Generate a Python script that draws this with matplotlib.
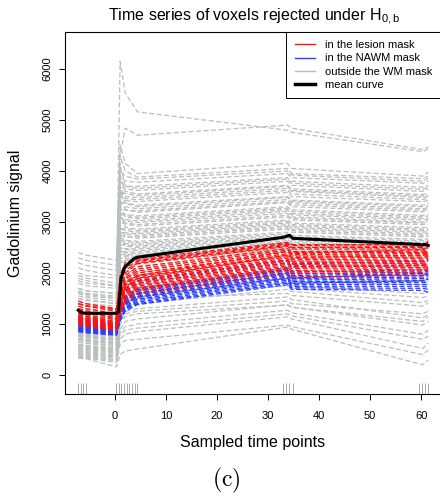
import numpy as np
import matplotlib
matplotlib.use("Agg")
import matplotlib.pyplot as plt
from matplotlib.lines import Line2D

plt.rcParams["font.family"] = ["Liberation Sans", "DejaVu Sans"]
plt.rcParams["mathtext.fontset"] = "cm"

# sampled time points (rug) and the times the voxel curves are read at
RUG_T = [-7.2, -6.7, -6.2, -5.7, 0.2, 0.7, 1.2, 1.8, 2.3, 2.8, 3.3, 3.9, 4.4,
         33.0, 33.6, 34.2, 34.8, 59.6, 60.2, 60.8, 61.4]
T = [-7.2, -5.7, 0.3, 1.0, 2.0, 4.4, 33.8, 34.6, 60.3, 61.4]

# voxels outside the WM mask
GRAY = [
    [1900, 1850, 1750, 6150, 5530, 5160, 4800, 4760, 4380, 4430],
    [1700, 1650, 1600, 4300, 4840, 4700, 4900, 4840, 4420, 4470],
    [2400, 2350, 2250, 4500, 4150, 3950, 4150, 4050, 3900, 3980],
    [2300, 2250, 2150, 4000, 3900, 3840, 4000, 3920, 3800, 3850],
    [2200, 2150, 2050, 4300, 4000, 3880, 4050, 3950, 3850, 3900],
    [2100, 2050, 1950, 3900, 3800, 3780, 3950, 3870, 3760, 3800],
    [2000, 1950, 1900, 3800, 3700, 3660, 3840, 3760, 3640, 3690],
    [1950, 1900, 1800, 4100, 3700, 3700, 3870, 3800, 3680, 3720],
    [1800, 1750, 1700, 3700, 3650, 3620, 3800, 3720, 3600, 3650],
    [1650, 1600, 1550, 3900, 3600, 3550, 3720, 3650, 3540, 3560],
    [1850, 1800, 1750, 3600, 3560, 3520, 3700, 3620, 3510, 3530],
    [1500, 1480, 1400, 3600, 3500, 3480, 3660, 3600, 3480, 3500],
    [1550, 1520, 1450, 3700, 3460, 3440, 3620, 3550, 3440, 3460],
    [1700, 1650, 1600, 3500, 3420, 3400, 3580, 3500, 3400, 3420],
    [1400, 1380, 1300, 3600, 3380, 3330, 3500, 3430, 3330, 3360],
    [1620, 1580, 1520, 3400, 3360, 3300, 3480, 3410, 3300, 3320],
    [1600, 1550, 1500, 3300, 3300, 3260, 3440, 3380, 3260, 3280],
    [1380, 1350, 1280, 3250, 3230, 3220, 3400, 3340, 3230, 3250],
    [1300, 1280, 1200, 3400, 3250, 3190, 3380, 3300, 3200, 3220],
    [1450, 1400, 1350, 3200, 3150, 3120, 3300, 3240, 3130, 3150],
    [1500, 1460, 1400, 3150, 3130, 3090, 3270, 3210, 3100, 3120],
    [1200, 1180, 1100, 3300, 3100, 3060, 3240, 3170, 3070, 3080],
    [1280, 1250, 1180, 3100, 3050, 3020, 3210, 3140, 3040, 3050],
    [1350, 1300, 1250, 3100, 3020, 2990, 3170, 3100, 3000, 3020],
    [1180, 1150, 1080, 3050, 2980, 2950, 3130, 3070, 2980, 2990],
    [1100, 1080, 1000, 3000, 2960, 2920, 3100, 3040, 2950, 2960],
    [1250, 1200, 1150, 3200, 2900, 2860, 3040, 2980, 2890, 2900],
    [1220, 1180, 1120, 2850, 2870, 2830, 3010, 2950, 2860, 2870],
    [1000, 980, 900, 2900, 2830, 2800, 2980, 2920, 2830, 2840],
    [1080, 1050, 980, 2800, 2790, 2770, 2950, 2890, 2800, 2810],
    [1150, 1100, 1050, 2800, 2760, 2740, 2920, 2860, 2770, 2780],
    [900, 880, 820, 2900, 2720, 2680, 2860, 2800, 2710, 2720],
    [950, 930, 870, 2750, 2700, 2710, 2890, 2830, 2740, 2750],
    [1050, 1000, 950, 2700, 2640, 2620, 2800, 2740, 2660, 2670],
    [1000, 970, 920, 2650, 2620, 2590, 2770, 2710, 2630, 2640],
    [850, 830, 780, 2600, 2580, 2560, 2740, 2690, 2600, 2610],
    [900, 870, 820, 2550, 2550, 2530, 2710, 2660, 2570, 2580],
    [980, 950, 900, 2700, 2530, 2500, 2690, 2630, 2550, 2560],
    [860, 840, 780, 2450, 2480, 2470, 2660, 2600, 2520, 2530],
    [800, 780, 720, 2500, 2460, 2440, 2630, 2570, 2500, 2500],
    [780, 760, 700, 2400, 2420, 2410, 2600, 2540, 2470, 2470],
    [950, 920, 870, 2400, 2400, 2380, 2580, 2520, 2440, 2450],
    [840, 820, 760, 2350, 2370, 2350, 2550, 2490, 2410, 2420],
    [750, 730, 680, 2450, 2350, 2320, 2520, 2460, 2390, 2400],
    [700, 680, 630, 2300, 2320, 2290, 2490, 2430, 2360, 2370],
    [880, 850, 800, 2300, 2280, 2260, 2470, 2400, 2340, 2340],
    [760, 740, 690, 2200, 2250, 2230, 2440, 2380, 2310, 2310],
    [700, 680, 620, 2200, 2220, 2200, 2410, 2350, 2280, 2290],
    [820, 800, 750, 2250, 2160, 2140, 2350, 2290, 2220, 2230],
    [650, 630, 580, 2100, 2100, 2080, 2300, 2240, 2170, 2170],
    [780, 760, 700, 2000, 2030, 2020, 2240, 2180, 2110, 2120],
    [600, 580, 530, 2050, 1980, 1960, 2180, 2120, 2060, 2060],
    [720, 700, 650, 1900, 1910, 1900, 2120, 2060, 2000, 2000],
    [560, 540, 480, 1800, 1850, 1840, 2060, 2000, 1940, 1950],
    [680, 660, 600, 1750, 1780, 1780, 2000, 1950, 1880, 1890],
    [520, 500, 450, 1700, 1720, 1720, 1950, 1890, 1830, 1830],
    [640, 620, 560, 1600, 1650, 1660, 1890, 1840, 1770, 1780],
    [580, 560, 500, 1450, 1550, 1600, 1800, 1750, 1600, 1620],
    [540, 520, 470, 1350, 1480, 1540, 1750, 1700, 1520, 1550],
    [600, 580, 520, 1300, 1450, 1500, 1600, 1560, 1350, 1410],
    [460, 440, 390, 1200, 1350, 1400, 1680, 1640, 1420, 1460],
    [500, 480, 430, 1100, 1250, 1300, 1530, 1480, 1120, 1180],
    [440, 420, 370, 1050, 1200, 1250, 1450, 1400, 1200, 1250],
    [480, 460, 400, 1000, 1150, 1200, 1370, 1330, 1050, 1140],
    [400, 380, 330, 900, 1050, 1100, 1380, 1330, 980, 1050],
    [420, 400, 350, 850, 950, 1000, 1270, 1220, 800, 880],
    [360, 350, 280, 800, 880, 920, 1200, 1160, 700, 760],
    [380, 360, 300, 700, 800, 850, 1140, 1100, 520, 630],
    [350, 330, 250, 600, 680, 700, 980, 950, 400, 490],
    [330, 320, 160, 400, 470, 510, 940, 900, 200, 290],
]

# voxels in the lesion mask
RED = [
    [1450, 1400, 1300, 1950, 2200, 2250, 2580, 2540, 2560, 2620],
    [1400, 1350, 1250, 1900, 2150, 2280, 2600, 2560, 2550, 2600],
    [1400, 1360, 1280, 1800, 2050, 2200, 2540, 2500, 2520, 2580],
    [1350, 1300, 1200, 1800, 2100, 2230, 2560, 2500, 2500, 2560],
    [1300, 1260, 1150, 1700, 2000, 2180, 2520, 2470, 2470, 2520],
    [1250, 1220, 1120, 1650, 1950, 2120, 2480, 2420, 2430, 2480],
    [1280, 1240, 1100, 1600, 1900, 2080, 2450, 2400, 2400, 2450],
    [1220, 1180, 1080, 1550, 1870, 2040, 2420, 2360, 2380, 2420],
    [1200, 1150, 1050, 1500, 1820, 2000, 2380, 2330, 2340, 2390],
    [1180, 1140, 1040, 1500, 1780, 1960, 2350, 2290, 2310, 2360],
    [1160, 1110, 1010, 1480, 1800, 1950, 2420, 2380, 2460, 2500],
    [1150, 1120, 1020, 1450, 1750, 1930, 2320, 2260, 2280, 2330],
    [1130, 1100, 1000, 1400, 1700, 1890, 2290, 2230, 2250, 2300],
    [1090, 1050, 950, 1330, 1720, 1900, 2350, 2300, 2350, 2420],
    [1120, 1080, 990, 1380, 1680, 1860, 2260, 2200, 2220, 2270],
    [1100, 1060, 970, 1350, 1650, 1830, 2230, 2170, 2190, 2240],
    [1080, 1040, 960, 1320, 1620, 1800, 2200, 2150, 2160, 2210],
    [1060, 1030, 940, 1300, 1600, 1770, 2170, 2120, 2140, 2180],
    [1050, 1010, 930, 1280, 1570, 1740, 2140, 2090, 2110, 2150],
    [1030, 1000, 920, 1260, 1540, 1710, 2110, 2050, 2080, 2120],
    [1020, 990, 900, 1230, 1500, 1680, 2080, 2020, 2040, 2090],
    [1000, 970, 890, 1200, 1470, 1650, 2050, 1990, 2010, 2060],
    [980, 950, 870, 1180, 1420, 1580, 1980, 1920, 1950, 2000],
]

# voxels in the NAWM mask
BLUE = [
    [1120, 1080, 1000, 1450, 1700, 1850, 2250, 2180, 2230, 2250],
    [1100, 1060, 980, 1400, 1650, 1800, 2200, 2120, 2150, 2170],
    [1050, 1020, 960, 1350, 1550, 1700, 2100, 2020, 2060, 2060],
    [1030, 1000, 940, 1300, 1520, 1670, 2070, 1980, 2020, 2030],
    [1010, 980, 920, 1280, 1490, 1640, 2040, 1950, 1990, 2000],
    [990, 960, 900, 1250, 1460, 1610, 2010, 1920, 1960, 1960],
    [960, 930, 870, 1230, 1460, 1600, 2000, 1900, 1990, 1960],
    [970, 940, 880, 1220, 1430, 1580, 1980, 1890, 1920, 1920],
    [950, 920, 860, 1200, 1400, 1550, 1950, 1860, 1890, 1880],
    [920, 900, 830, 1180, 1400, 1530, 1900, 1800, 1850, 1880],
    [930, 900, 850, 1170, 1380, 1520, 1920, 1830, 1850, 1840],
    [910, 890, 840, 1150, 1350, 1490, 1890, 1800, 1820, 1800],
    [900, 870, 820, 1120, 1320, 1460, 1860, 1770, 1780, 1760],
    [880, 860, 800, 1100, 1300, 1430, 1830, 1740, 1740, 1720],
    [860, 840, 790, 1080, 1280, 1400, 1800, 1710, 1700, 1680],
    [850, 830, 780, 1060, 1250, 1380, 1770, 1680, 1660, 1620],
]

MEAN_T = RUG_T
MEAN_V = [1270, 1230, 1215, 1210, 1210, 1240, 1900, 2100, 2150, 2200, 2250, 2290, 2310,
          2700, 2720, 2740, 2680, 2560, 2550, 2560, 2540]

GREY, RED_C, BLUE_C = "#b9bfbd", "#ff1010", "#2a3cff"
DASH = (4, 2)

fig = plt.figure(figsize=(4.4, 4.99), dpi=100)
ax = fig.add_axes([65 / 440, 1 - 394 / 499, 376 / 440, 362 / 499])

for row in GRAY:
    ax.plot(T, row, color=GREY, lw=0.9, dashes=DASH)
for row in BLUE:
    ax.plot(T, row, color=BLUE_C, lw=0.9, dashes=DASH)
for row in RED:
    ax.plot(T, row, color=RED_C, lw=0.9, dashes=DASH)
ax.plot(MEAN_T, MEAN_V, color="k", lw=2.2)

# rug of sampled time points
ax.vlines(RUG_T, 0, 0.03, color="#a8a8a8", lw=0.7, transform=ax.get_xaxis_transform())

ax.set_xlim(-9.8, 63.9)
ax.set_ylim(-372, 6725)
ax.set_xticks([0, 10, 20, 30, 40, 50, 60])
ax.set_yticks([0, 1000, 2000, 3000, 4000, 5000, 6000])
ax.tick_params(axis="x", labelsize=8, length=4.5, width=0.7, pad=8)
ax.tick_params(axis="y", labelsize=8, length=4.5, width=0.7, pad=4.5)
plt.setp(ax.get_yticklabels(), rotation=90, va="center")
for s in ax.spines.values():
    s.set_linewidth(0.8)

handles = [Line2D([], [], color=RED_C, lw=1.0),
           Line2D([], [], color=BLUE_C, lw=1.0),
           Line2D([], [], color=GREY, lw=1.0),
           Line2D([], [], color="k", lw=2.5)]
labels = ["in the lesion mask", "in the NAWM mask", "outside the WM mask", "mean curve"]
leg = ax.legend(handles, labels, loc="upper right", bbox_to_anchor=(1, 1), borderaxespad=0,
                fontsize=8, handlelength=1.8, handletextpad=0.95, labelspacing=0.28,
                borderpad=0.75, fancybox=False, framealpha=1, edgecolor="k")
leg.get_frame().set_linewidth(0.7)

fig.text(254 / 440, 1 - 17 / 499, r"Time series of voxels rejected under $\mathregular{H_{0,b}}$",
         ha="center", va="center", fontsize=11.5)
fig.text(253 / 440, 1 - 442 / 499, "Sampled time points", ha="center", va="center", fontsize=11.5)
fig.text(16 / 440, 1 - 213 / 499, "Gadolinium signal", ha="center", va="center",
         rotation=90, fontsize=11.5)
fig.text(226 / 440, 1 - 480 / 499, r"$\mathrm{(c)}$", ha="center", va="center", fontsize=17)

fig.savefig("out.png", dpi=100)
